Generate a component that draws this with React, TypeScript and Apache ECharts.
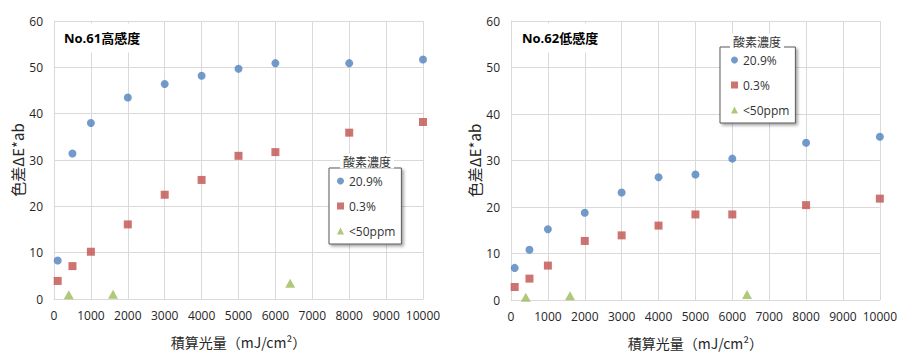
import React, { useEffect, useRef } from "react";
import * as echarts from "echarts";

const xTicksMax = 10000;
const yTicksMax = 60;
const seriesNames = ["20.9%", "0.3%", "<50ppm"];
const chartTitles = ["No.61高感度", "No.62低感度"];
const legendTitle = "酸素濃度";
const xName = "積算光量（mJ/cm²）";
const yName = "色差ΔE*ab";

const xDose = [100, 500, 1000, 2000, 3000, 4000, 5000, 6000, 8000, 10000];
const xLowO2 = [400, 1600, 6400];

const no61_air = [8.3, 31.4, 38.0, 43.5, 46.4, 48.2, 49.7, 50.9, 50.9, 51.7];
const no61_03 = [3.9, 7.1, 10.2, 16.1, 22.5, 25.7, 30.9, 31.7, 35.9, 38.2];
const no61_50 = [0.9, 1.0, 3.4];

const no62_air = [6.9, 10.8, 15.2, 18.75, 23.1, 26.4, 27.0, 30.4, 33.8, 35.1];
const no62_03 = [2.8, 4.6, 7.4, 12.7, 13.9, 16.0, 18.4, 18.4, 20.4, 21.8];
const no62_50 = [0.6, 0.9, 1.2];

const COLORS = ["#4f81bd", "#c0504d", "#9bbb59"];
const FONT = "'Open Sans', 'Noto Sans CJK JP', sans-serif";
const JP = "'Noto Sans CJK JP', sans-serif";

function zip(xs: number[], ys: number[]) {
  return xs.map((x, i) => [x, ys[i]]);
}

export default function App() {
  const ref = useRef<HTMLDivElement>(null);
  useEffect(() => {
    if (!ref.current) return;
    const chart = echarts.init(ref.current, undefined, { renderer: "svg" });
    const grids = [
      { left: 54, right: 477, top: 21, bottom: 56 },
      { left: 511, right: 20, top: 21, bottom: 55 },
    ];
    const mkX = (gi: number) => ({
      type: "value",
      gridIndex: gi,
      min: 0,
      max: xTicksMax,
      interval: 1000,
      name: xName,
      nameLocation: "middle",
      nameGap: 36,
      nameTextStyle: { fontFamily: JP, fontSize: 14, color: "#262626" },
      axisLine: { show: true, lineStyle: { color: "#d9d9d9" } },
      axisTick: { show: false },
      axisLabel: {
        margin: 10,
        fontFamily: FONT,
        fontSize: 12,
        color: "#262626",
        formatter: (v: number) => String(v),
      },
      splitLine: { show: true, lineStyle: { color: "#d9d9d9" } },
    });
    const mkY = (gi: number, gap: number) => ({
      type: "value",
      gridIndex: gi,
      min: 0,
      max: yTicksMax,
      interval: 10,
      name: yName,
      nameLocation: "middle",
      nameGap: gap,
      nameTextStyle: { fontFamily: JP, fontSize: 15, color: "#262626" },
      axisLine: { show: true, lineStyle: { color: "#d9d9d9" } },
      axisTick: { show: false },
      axisLabel: {
        margin: 11,
        fontFamily: FONT,
        fontSize: 12,
        color: "#262626",
        formatter: (v: number) => String(v),
      },
      splitLine: { show: true, lineStyle: { color: "#d9d9d9" } },
    });
    const mkS = (name: string, gi: number, data: number[][], idx: number) => ({
      type: "scatter",
      name,
      xAxisIndex: gi,
      yAxisIndex: gi,
      data,
      symbol: ["circle", "rect", "triangle"][idx],
      symbolSize: [8, 8, [10, 9]][idx],
      itemStyle: { color: COLORS[idx] },
      z: 3,
    });
    const mkLegend = (left: number, top: number, padding: number[]) => ({
      orient: "vertical",
      left,
      top,
      data: seriesNames,
      itemWidth: 7,
      itemHeight: 7,
      itemGap: 13,
      padding,
      borderColor: "#595959",
      borderWidth: 1,
      backgroundColor: "#fff",
      shadowColor: "rgba(0,0,0,0.35)",
      shadowBlur: 3,
      shadowOffsetX: 2,
      shadowOffsetY: 2,
      selectedMode: false,
      textStyle: { fontFamily: FONT, fontSize: 12, color: "#333" },
    });
    const mkText = (text: string, x: number, y: number, opts: any) => ({
      type: "text",
      x,
      y,
      z: 100,
      style: {
        text,
        fontFamily: FONT,
        ...opts,
      },
    });
    chart.setOption({
      animation: false,
      grid: grids,
      xAxis: [mkX(0), mkX(1)],
      yAxis: [mkY(0, 28), mkY(1, 29)],
      legend: [mkLegend(329, 168, [7, 6, 7, 8]), mkLegend(720, 47, [7, 6, 7, 11])],
      series: [
        mkS(seriesNames[0], 0, zip(xDose, no61_air), 0),
        mkS(seriesNames[1], 0, zip(xDose, no61_03), 1),
        mkS(seriesNames[2], 0, zip(xLowO2, no61_50), 2),
        mkS(seriesNames[0], 1, zip(xDose, no62_air), 0),
        mkS(seriesNames[1], 1, zip(xDose, no62_03), 1),
        mkS(seriesNames[2], 1, zip(xLowO2, no62_50), 2),
      ],
      graphic: [
        mkText(chartTitles[0], 60, 38, {
          fontSize: 13,
          fontWeight: "bold",
          fill: "#000",
          verticalAlign: "middle",
          backgroundColor: "#fff",
          padding: [8, 4, 8, 4],
        }),
        mkText(chartTitles[1], 518, 38, {
          fontSize: 13,
          fontWeight: "bold",
          fill: "#000",
          verticalAlign: "middle",
          backgroundColor: "#fff",
          padding: [8, 4, 8, 4],
        }),
        mkText(legendTitle, 367, 161, {
          fontFamily: JP,
          fontSize: 12,
          fill: "#333",
          align: "center",
          verticalAlign: "middle",
          backgroundColor: "#fff",
          padding: [1, 3, 2, 3],
        }),
        mkText(legendTitle, 757, 41, {
          fontFamily: JP,
          fontSize: 12,
          fill: "#333",
          align: "center",
          verticalAlign: "middle",
          backgroundColor: "#fff",
          padding: [1, 3, 2, 3],
        }),
      ],
    });
    return () => chart.dispose();
  }, []);
  return (
    <div
      ref={ref}
      style={{ position: "fixed", left: 0, top: 0, width: 900, height: 355, background: "#fff" }}
    />
  );
}
